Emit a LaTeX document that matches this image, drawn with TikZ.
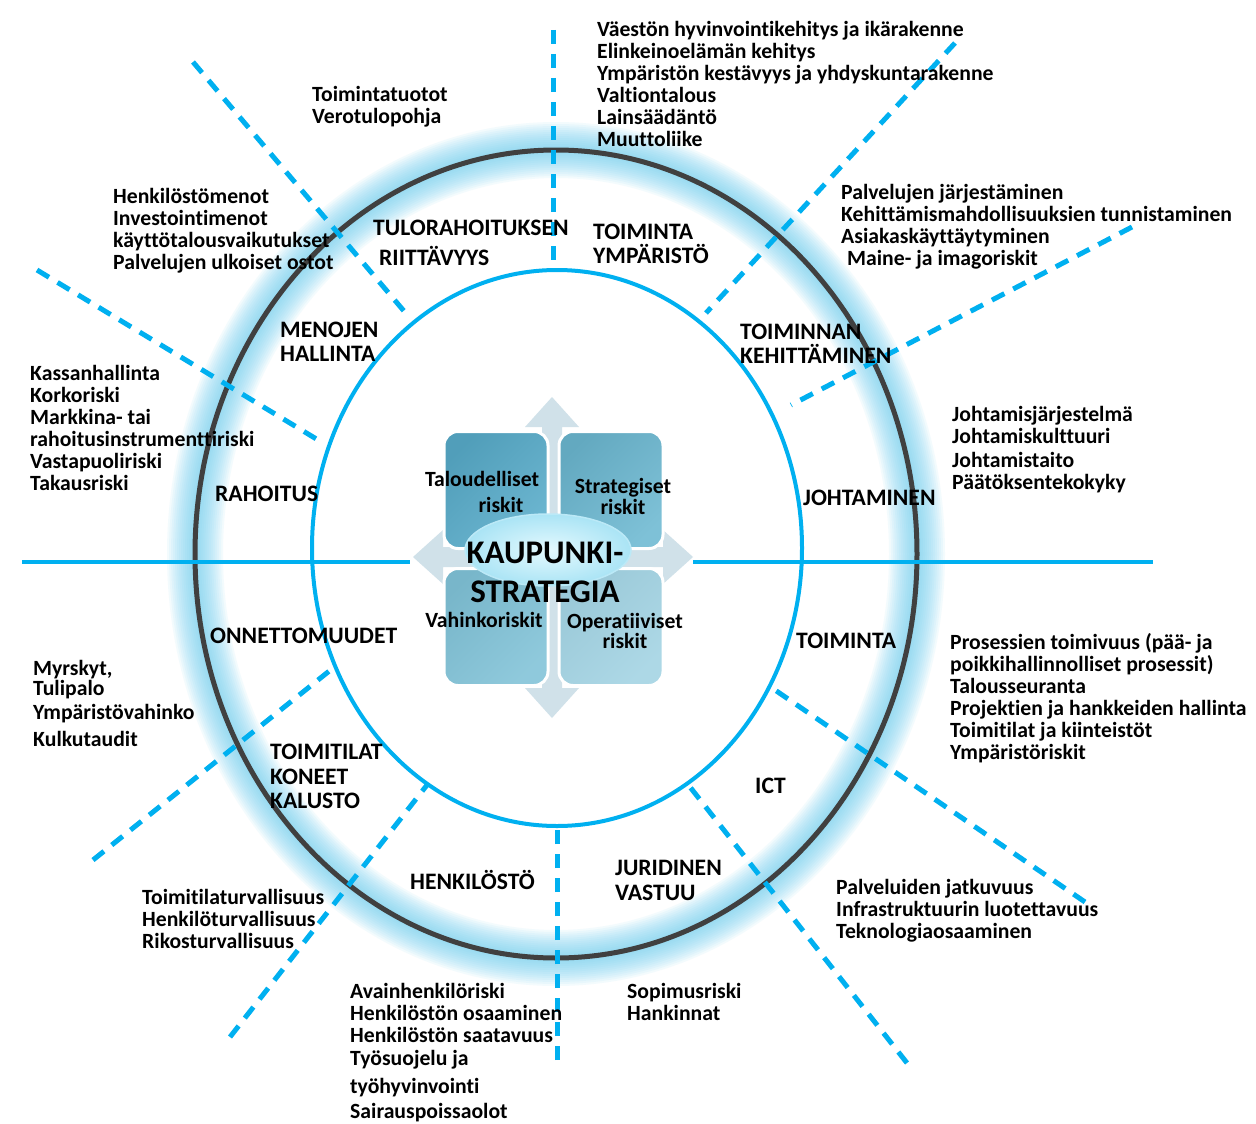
\documentclass[tikz,border=0pt]{standalone}
\usepackage{fontspec}
\setmainfont{Carlito}[Ligatures=NoCommon]
\usepackage{tikz}
\usetikzlibrary{shapes.geometric}
\definecolor{dashblue}{RGB}{0,176,240}
\definecolor{ringgrey}{RGB}{64,64,64}
\definecolor{glowblue}{RGB}{105,205,240}
\definecolor{crossgrey}{RGB}{208,225,233}
\definecolor{boxa}{RGB}{88,172,202}
\definecolor{boxb}{RGB}{108,184,209}
\definecolor{boxc}{RGB}{128,194,215}
\definecolor{boxd}{RGB}{162,211,227}
\definecolor{cityin}{RGB}{228,249,254}
\definecolor{cityout}{RGB}{170,228,245}

\begin{document}
\begin{tikzpicture}[x=1pt,y=-1pt,
  dashline/.style={dashblue,line width=5pt,dash pattern=on 14pt off 10pt},
  lst/.style={anchor=north west,inner sep=0pt,align=left,font=\fontsize{21.7}{22}\selectfont\bfseries},
  cat/.style={anchor=north west,inner sep=0pt,align=left,font=\fontsize{23.6}{23.5}\selectfont\bfseries},
  riskbox/.style={draw=white,line width=3pt,rounded corners=14pt,minimum width=104pt,minimum height=117pt,inner sep=0pt},
  risk/.style={inner sep=0pt,align=center,font=\fontsize{21.7}{22}\selectfont\bfseries}]
  \useasboundingbox[fill=white] (0,0) rectangle (1256,1124);

  % glow round the outer ring
  \foreach \w in {56,52,...,4}
    \draw[glowblue,opacity=0.075,line width=\w pt] (556,554) ellipse [x radius=361pt,y radius=404pt];
  \draw[ringgrey,line width=5pt] (556,554) ellipse [x radius=361pt,y radius=404pt];
  \draw[dashblue,line width=4pt] (557,548) ellipse [x radius=245pt,y radius=278pt];

  % spokes
  \draw[dashblue,line width=4pt] (22,562) -- (410,562);
  \draw[dashblue,line width=4pt] (693,562) -- (1153,562);
  \foreach \xa/\ya/\xb/\yb in {553/30/553/268, 193/62/409/317, 37/270/323/443,
      955/43/706/313, 1132/227/791/405, 93/860/333/668, 230/1037/427/785,
      557/1060/557/830, 907/1063/690/787, 1085/902/775/690}
    \draw[dashline] (\xa,\ya) -- (\xb,\yb);

  % cross of arrows behind the boxes
  \fill[crossgrey] (552,397) -- (579,427) -- (562,427) -- (562,547) -- (663,547) -- (663,530)
    -- (693,557) -- (663,584) -- (663,567) -- (562,567) -- (562,688) -- (579,688) -- (552,718)
    -- (525,688) -- (542,688) -- (542,567) -- (443,567) -- (443,584) -- (413,557) -- (443,530)
    -- (443,547) -- (542,547) -- (542,427) -- (525,427) -- cycle;

  \node[riskbox,top color=boxa!92!black,bottom color=boxa!88!white,shading angle=45] (fin) at (496,490) {};
  \node[riskbox,top color=boxb!92!black,bottom color=boxb!88!white,shading angle=45] (strat) at (611,490) {};
  \node[riskbox,top color=boxc!94!black,bottom color=boxc!88!white,shading angle=45] (dmg) at (496,627) {};
  \node[riskbox,top color=boxd!95!black,bottom color=boxd!88!white,shading angle=45] (oper) at (611,627) {};

  \node[risk] (finT) at (482,492) {Taloudelliset\\[4pt]\hspace*{38pt}riskit};
  \node[risk] (stratT) at (623,496) {Strategiset\\[-1pt]riskit};
  \node[risk] (dmgT) at (484,620) {Vahinkoriskit};
  \node[risk] (operT) at (625,631) {Operatiiviset\\[-2pt]riskit};

  \node[ellipse,draw=cityout!80!white,line width=1.5pt,inner color=cityin,outer color=cityout,
    minimum width=166pt,minimum height=72pt] (city) at (548,550) {};
  \node[inner sep=0pt,align=center,font=\fontsize{33}{39}\selectfont\bfseries] (cityT) at (545,572) {KAUPUNKI-\\STRATEGIA};

  % ring labels
  \node[cat] (incomeC) at (373,220) {TULORAHOITUKSEN\\[6pt]\hspace*{6pt}RIITTÄVYYS};
  \node[cat] (envC) at (593,224) {TOIMINTA\\YMPÄRISTÖ};
  \node[cat] (costC) at (280,322) {MENOJEN\\HALLINTA};
  \node[cat] (devC) at (740,324) {TOIMINNAN\\KEHITTÄMINEN};
  \node[cat] (finC) at (215,486) {RAHOITUS};
  \node[cat] (leadC) at (803,490) {JOHTAMINEN};
  \node[cat] (dmgC) at (210,628) {ONNETTOMUUDET};
  \node[cat] (opC) at (796,633) {TOIMINTA};
  \node[cat] (premC) at (270,744) {TOIMITILAT\\[1pt]KONEET\\[1pt]KALUSTO};
  \node[cat] (ictC) at (755,778) {ICT};
  \node[cat] (hrC) at (410,870) {HENKILÖSTÖ};
  \node[cat] (legC) at (615,860) {JURIDINEN\\[1pt]VASTUU};

  % risk lists
  \node[lst] (envL) at (597,21) {Väestön hyvinvointikehitys ja ikärakenne\\Elinkeinoelämän kehitys\\Ympäristön kestävyys ja yhdyskuntarakenne\\Valtiontalous\\Lainsäädäntö\\Muuttoliike};
  \node[lst] (incomeL) at (312,86) {Toimintatuotot\\Verotulopohja};
  \node[lst] (costL) at (113,188) {Henkilöstömenot\\Investointimenot\\käyttötalousvaikutukset\\Palvelujen ulkoiset ostot};
  \node[lst] (devL) at (841,184) {Palvelujen järjestäminen\\Kehittämismahdollisuuksien tunnistaminen\\Asiakaskäyttäytyminen\\\hspace*{6pt}Maine- ja imagoriskit};
  \node[lst] (finL) at (30,365) {Kassanhallinta\\Korkoriski\\Markkina- tai\\rahoitusinstrumenttiriski\\Vastapuoliriski\\Takausriski};
  \node[lst] (leadL) at (952,406) {Johtamisjärjestelmä\\Johtamiskulttuuri\\[2pt]Johtamistaito\\Päätöksentekokyky};
  \node[lst] (dmgL) at (33,660) {Myrskyt,\\[-2pt]Tulipalo\\[2pt]Ympäristövahinko\\[5pt]Kulkutaudit};
  \node[lst] (opL) at (950,633) {Prosessien toimivuus (pää- ja\\poikkihallinnolliset prosessit)\\Talousseuranta\\Projektien ja hankkeiden hallinta\\Toimitilat ja kiinteistöt\\Ympäristöriskit};
  \node[lst] (premL) at (142,889) {Toimitilaturvallisuus\\Henkilöturvallisuus\\Rikosturvallisuus};
  \node[lst] (ictL) at (836,879) {Palveluiden jatkuvuus\\Infrastruktuurin luotettavuus\\Teknologiaosaaminen};
  \node[lst] (hrL) at (350,983) {Avainhenkilöriski\\Henkilöstön osaaminen\\Henkilöstön saatavuus\\[1pt]Työsuojelu ja\\[6pt]työhyvinvointi\\[3pt]Sairauspoissaolot};
  \node[lst] (legL) at (627,983) {Sopimusriski\\Hankinnat};
\end{tikzpicture}
\end{document}
